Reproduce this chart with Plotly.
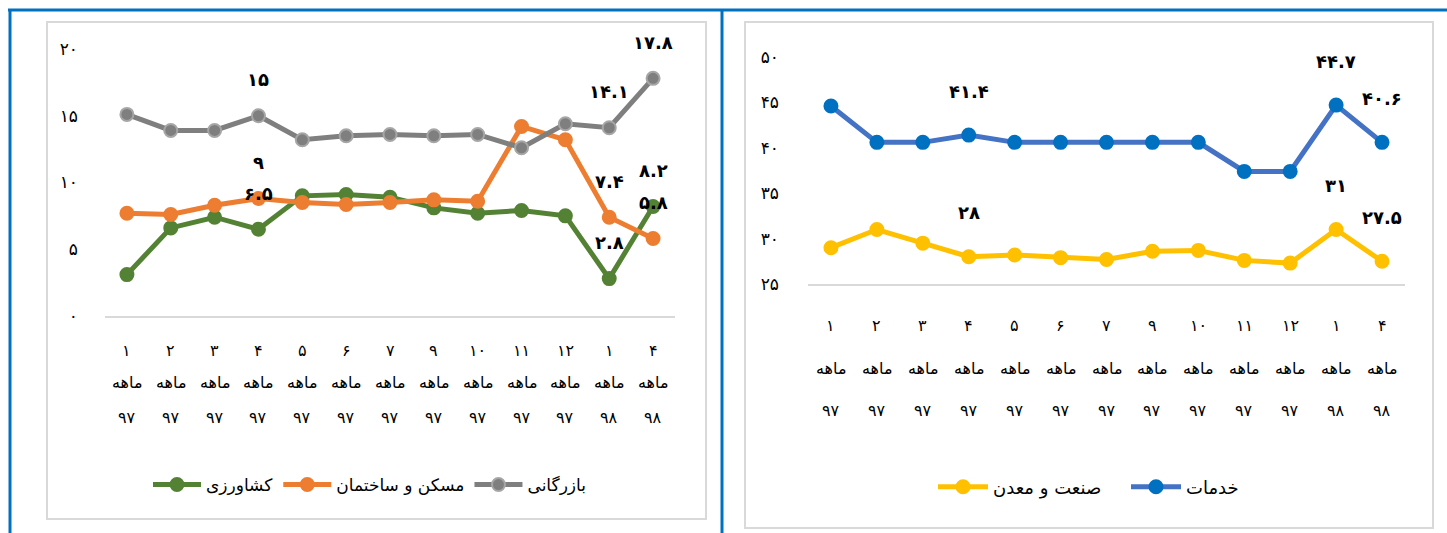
import plotly.graph_objects as go

W, H = 1447, 533

# ---------------- data ----------------
month_labels = ["۱", "۲", "۳", "۴", "۵", "۶", "۷", "۹", "۱۰", "۱۱", "۱۲", "۱", "۴"]
word_label = "ماهه"
year_labels = ["۹۷"] * 11 + ["۹۸", "۹۸"]

# left chart
agri = [3.1, 6.6, 7.4, 6.5, 9.0, 9.1, 8.9, 8.1, 7.7, 7.9, 7.5, 2.8, 8.2]          # کشاورزی
housing = [7.7, 7.6, 8.3, 8.8, 8.5, 8.35, 8.5, 8.7, 8.6, 14.2, 13.2, 7.4, 5.8]    # مسکن و ساختمان
trade = [15.1, 13.9, 13.9, 15.0, 13.2, 13.5, 13.6, 13.5, 13.6, 12.6, 14.4, 14.1, 17.8]  # بازرگانی

# right chart
services = [44.6, 40.6, 40.6, 41.4, 40.6, 40.6, 40.6, 40.6, 40.6, 37.4, 37.4, 44.7, 40.6]  # خدمات
industry = [29.0, 31.0, 29.5, 28.0, 28.2, 27.9, 27.7, 28.6, 28.7, 27.6, 27.3, 31.0, 27.5]  # صنعت و معدن

left_yticks = [0, 5, 10, 15, 20]
left_yticktext = ["۰", "۵", "۱۰", "۱۵", "۲۰"]
right_yticks = [25, 30, 35, 40, 45, 50]
right_yticktext = ["۲۵", "۳۰", "۳۵", "۴۰", "۴۵", "۵۰"]

# data labels: (series, index, text)
left_labels = [
    ("trade", 3, "۱۵"), ("housing", 3, "۹"), ("agri", 3, "۶.۵"),
    ("trade", 12, "۱۷.۸"), ("trade", 11, "۱۴.۱"), ("housing", 11, "۷.۴"),
    ("agri", 12, "۸.۲"), ("housing", 12, "۵.۸"), ("agri", 11, "۲.۸"),
]
right_labels = [
    ("services", 3, "۴۱.۴"), ("industry", 3, "۲۸"),
    ("services", 11, "۴۴.۷"), ("services", 12, "۴۰.۶"),
    ("industry", 11, "۳۱"), ("industry", 12, "۲۷.۵"),
]

FONT = "DejaVu Sans"
x_idx = list(range(len(month_labels)))

def px(x):
    return x / W

def py(y):
    return 1 - y / H

fig = go.Figure()

def add_series(y, name, line_color, marker_color, xa, ya, legend, marker_line=None):
    fig.add_trace(go.Scatter(
        x=x_idx, y=y, name=name, mode="lines+markers",
        line=dict(color=line_color, width=5),
        marker=dict(color=marker_color, size=13,
                    line=dict(color=marker_line or marker_color, width=2)),
        xaxis=xa, yaxis=ya, legend=legend, hoverinfo="skip",
    ))

add_series(agri, "کشاورزی", "#548235", "#548235", "x", "y", "legend")
add_series(housing, "مسکن و ساختمان", "#ED7D31", "#ED7D31", "x", "y", "legend")
add_series(trade, "بازرگانی", "#7F7F7F", "#7F7F7F", "x", "y", "legend", marker_line="#A6A6A6")
add_series(industry, "صنعت و معدن", "#FFC000", "#FFC000", "x2", "y2", "legend2")
add_series(services, "خدمات", "#4472C4", "#0070C0", "x2", "y2", "legend2")

series_map = {"agri": agri, "housing": housing, "trade": trade,
              "services": services, "industry": industry}

annotations = []
for s, i, t in left_labels:
    annotations.append(dict(x=i, y=series_map[s][i], xref="x", yref="y", text=t,
                            showarrow=False, yshift=36,
                            font=dict(family=FONT, size=18, color="#000000", weight="bold")))
for s, i, t in right_labels:
    annotations.append(dict(x=i, y=series_map[s][i], xref="x2", yref="y2", text=t,
                            showarrow=False, yshift=44,
                            font=dict(family=FONT, size=18, color="#000000", weight="bold")))

# multi-row category labels
left_rows = [py(350), py(383), py(417)]
right_rows = [py(325), py(368), py(410)]
for i in x_idx:
    for xr, rows in (("x", left_rows), ("x2", right_rows)):
        for txt, yy in zip([month_labels[i], word_label, year_labels[i]], rows):
            annotations.append(dict(x=i, y=yy, xref=xr, yref="paper", text=txt,
                                    showarrow=False, yanchor="middle",
                                    font=dict(family=FONT, size=16, color="#000000")))

axis_common = dict(showgrid=False, zeroline=False, showticklabels=False, ticks="",
                   range=[-0.5, 12.5], showline=True, linecolor="#D9D9D9", linewidth=2,
                   fixedrange=True, automargin=False)

shapes = [
    # inner light-gray chart frames
    dict(type="rect", xref="paper", yref="paper", x0=px(47), x1=px(706), y0=py(519), y1=py(22),
         line=dict(color="#D9D9D9", width=2)),
    dict(type="rect", xref="paper", yref="paper", x0=px(745), x1=px(1433), y0=py(528), y1=py(22),
         line=dict(color="#D9D9D9", width=2)),
    # blue outer borders
    dict(type="line", xref="paper", yref="paper", x0=px(8), x1=1, y0=py(10), y1=py(10),
         line=dict(color="#0070C0", width=3)),
    dict(type="line", xref="paper", yref="paper", x0=px(10), x1=px(10), y0=0, y1=py(9),
         line=dict(color="#0070C0", width=3)),
    dict(type="line", xref="paper", yref="paper", x0=px(722), x1=px(722), y0=0, y1=py(9),
         line=dict(color="#0070C0", width=3)),
]

fig.update_layout(
    template="none",
    width=W, height=H, margin=dict(l=0, r=0, t=0, b=0, pad=0, autoexpand=False),
    paper_bgcolor="white", plot_bgcolor="white",
    font=dict(family=FONT, color="#000000"),
    xaxis=dict(domain=[px(105), px(675)], anchor="y", **axis_common),
    yaxis=dict(domain=[py(316), py(49)], range=[0, 20], anchor="x",
               tickvals=left_yticks, ticktext=left_yticktext, showgrid=False,
               zeroline=False, showline=False, ticks="", ticklabelstandoff=26,
               automargin=False,
               tickfont=dict(family=FONT, size=17, color="#000000"), fixedrange=True),
    xaxis2=dict(domain=[px(808), px(1405)], anchor="y2", **axis_common),
    yaxis2=dict(domain=[py(284), py(57)], range=[25, 50], anchor="x2",
                tickvals=right_yticks, ticktext=right_yticktext, showgrid=False,
                zeroline=False, showline=False, ticks="", ticklabelstandoff=28,
                automargin=False,
                tickfont=dict(family=FONT, size=17, color="#000000"), fixedrange=True),
    legend=dict(orientation="h", x=px(148), y=py(485), xanchor="left", yanchor="middle",
                itemwidth=48,
                font=dict(family=FONT, size=17, color="#000000"), bgcolor="rgba(0,0,0,0)"),
    legend2=dict(orientation="h", x=px(933), y=py(487), xanchor="left", yanchor="middle",
                 itemwidth=50, entrywidth=128, entrywidthmode="pixels",
                 font=dict(family=FONT, size=18, color="#000000"), bgcolor="rgba(0,0,0,0)"),
    annotations=annotations,
    shapes=shapes,
    showlegend=True,
)

fig.write_html(
    "out.html",
    config={"displayModeBar": False},
    post_script="document.body.style.margin='0';document.body.style.overflow='hidden';",
)
